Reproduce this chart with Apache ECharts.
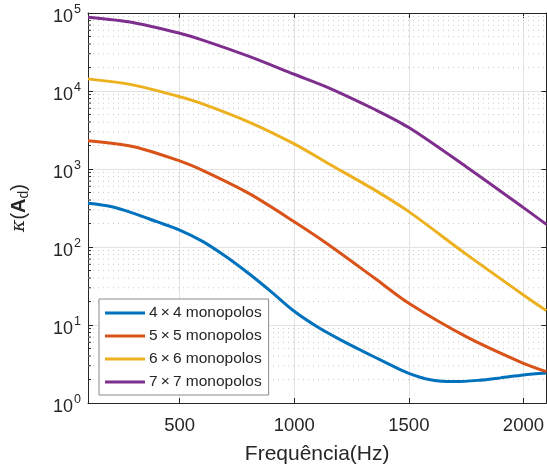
<!DOCTYPE html>
<html>
<head>
<meta charset="utf-8">
<script src="https://cdn.jsdelivr.net/npm/echarts@6/dist/echarts.min.js"></script>
<style>
  html, body { margin: 0; padding: 0; background: #fff; }
  #chart { width: 547px; height: 470px; }
</style>
</head>
<body>
<div id="chart"></div>
<script>
// Condition number of the array matrix versus frequency
const freqHz = [100, 300, 500, 600, 800, 1000, 1150, 1350, 1500, 1750, 2000, 2100];
const kappa5x5 = [2300, 1930, 1270, 960, 490, 211, 107, 40, 19, 7.1, 3.23, 2.53];
const kappa6x6 = [14300, 11900, 8450, 6850, 4030, 2100, 1170, 540, 284, 81, 24.3, 15.3];
const kappa7x7 = [88000, 75000, 55000, 45000, 28000, 16400, 11000, 5830, 3400, 1070, 320, 195];

// the 4x4 array has a sharper shape, sampled more finely
const freq4x4Hz = [100, 200, 300, 400, 500, 600, 700, 800, 900, 1000, 1100, 1200, 1300, 1400, 1500, 1600, 1700, 1800, 1900, 2000, 2100];
const kappa4x4 = [363, 330, 270, 211, 165, 118, 76, 46, 26.6, 15, 9.5, 6.5, 4.6, 3.3, 2.4, 1.97, 1.88, 1.95, 2.1, 2.29, 2.42];

const seriesNames = ['4\u2009\u00d7\u20094 monopolos', '5\u2009\u00d7\u20095 monopolos', '6\u2009\u00d7\u20096 monopolos', '7\u2009\u00d7\u20097 monopolos'];
const seriesColors = ['#0072BD', '#D95319', '#EDB120', '#7E2F8E'];
const xTicks = [500, 1000, 1500, 2000];

// minor log ticks 2..9 within each decade
const minorTicks = [];
for (let e = 0; e < 5; e++) {
  for (let m = 2; m <= 9; m++) minorTicks.push(m * Math.pow(10, e));
}

const FONT = 'Liberation Sans, Arial, sans-serif';
const AXIS_COLOR = '#262626';

const chart = echarts.init(document.getElementById('chart'), null, { renderer: 'canvas' });

const seriesData = [
  [freq4x4Hz, kappa4x4],
  [freqHz, kappa5x5],
  [freqHz, kappa6x6],
  [freqHz, kappa7x7]
];

const lineSeries = seriesData.map(([fs, vals], i) => ({
  name: seriesNames[i],
  type: 'line',
  data: fs.map((f, j) => [f, vals[j]]),
  smooth: 0.3,
  showSymbol: false,
  symbol: 'none',
  lineStyle: { width: 3, color: seriesColors[i] },
  itemStyle: { color: seriesColors[i] },
  z: 5
}));

const minorGrid = {
  type: 'custom',
  silent: true,
  z: 1,
  data: minorTicks.map(v => [100, v]),
  renderItem: function (params, api) {
    const cs = params.coordSys;
    const y = api.coord([100, api.value(1)])[1];
    return {
      type: 'group',
      children: [
        {
          type: 'line',
          shape: { x1: cs.x, y1: y, x2: cs.x + cs.width, y2: y },
          style: { stroke: '#c8c8c8', lineWidth: 1, lineDash: [1, 4] }
        },
        {
          type: 'line',
          shape: { x1: cs.x, y1: y, x2: cs.x + 3, y2: y },
          style: { stroke: AXIS_COLOR, lineWidth: 1 }
        }
      ]
    };
  }
};

const option = {
  animation: false,
  backgroundColor: '#ffffff',
  grid: { left: 88, top: 13, width: 462, height: 390, containLabel: false },
  legend: {
    data: seriesNames,
    orient: 'vertical',
    left: 99,
    top: 299,
    icon: 'rect',
    itemWidth: 40,
    itemHeight: 3,
    itemGap: 7,
    padding: [6, 7, 5, 6],
    backgroundColor: '#ffffff',
    borderColor: '#8a8a8a',
    borderWidth: 1,
    textStyle: { fontFamily: FONT, fontSize: 15.5, color: '#262626', lineHeight: 15, padding: [0, 0, 0, -1] }
  },
  xAxis: [
    {
      type: 'value',
      min: 100,
      max: 2100,
      position: 'bottom',
      name: 'Frequ\u00eancia(Hz)',
      nameLocation: 'middle',
      nameGap: 41,
      nameTextStyle: { fontFamily: FONT, fontSize: 21, color: AXIS_COLOR },
      axisLine: { show: true, onZero: false, lineStyle: { color: AXIS_COLOR, width: 1 } },
      axisTick: { show: true, inside: true, length: 5, customValues: xTicks, lineStyle: { color: AXIS_COLOR } },
      axisLabel: {
        customValues: xTicks,
        fontFamily: FONT,
        fontSize: 18.5,
        color: AXIS_COLOR,
        margin: 13,
        formatter: function (v) { return String(v); }
      },
      splitLine: { show: true, lineStyle: { color: '#e2e2e2', width: 1 } }
    },
    {
      type: 'value',
      min: 100,
      max: 2100,
      position: 'top',
      axisLine: { show: true, onZero: false, lineStyle: { color: AXIS_COLOR, width: 1 } },
      axisTick: { show: true, inside: true, length: 5, customValues: xTicks, lineStyle: { color: AXIS_COLOR } },
      axisLabel: { show: false },
      splitLine: { show: false }
    }
  ],
  yAxis: [
    {
      type: 'log',
      logBase: 10,
      min: 1,
      max: 100000,
      position: 'left',
      name: '{k|\u03ba}{p|(}{a|A}{d|d}{p|)}',
      nameLocation: 'middle',
      nameGap: 57,
      nameRotate: 90,
      nameTextStyle: {
        fontFamily: FONT,
        color: AXIS_COLOR,
        rich: {
          k: { fontFamily: 'DejaVu Serif', fontStyle: 'italic', fontSize: 19, color: AXIS_COLOR },
          p: { fontFamily: FONT, fontSize: 20, color: AXIS_COLOR },
          a: { fontFamily: FONT, fontWeight: 'bold', fontSize: 20, color: AXIS_COLOR },
          d: { fontFamily: FONT, fontSize: 14, color: AXIS_COLOR, padding: [9, 0, 0, 0] }
        }
      },
      axisLine: { show: true, onZero: false, lineStyle: { color: AXIS_COLOR, width: 1 } },
      axisTick: { show: true, inside: true, length: 5, lineStyle: { color: AXIS_COLOR } },
      axisLabel: {
        fontFamily: FONT,
        color: AXIS_COLOR,
        margin: 7,
        formatter: function (v) {
          const e = Math.round(Math.log10(v));
          return '{b|10}{s|' + e + '}';
        },
        rich: {
          b: { fontFamily: FONT, fontSize: 18, color: AXIS_COLOR, padding: [9, 0, 0, 0] },
          s: { fontFamily: FONT, fontSize: 12.5, color: AXIS_COLOR, padding: [0, 0, 6, 1] }
        }
      },
      splitLine: { show: true, lineStyle: { color: '#e2e2e2', width: 1 } }
    },
    {
      type: 'log',
      logBase: 10,
      min: 1,
      max: 100000,
      position: 'right',
      axisLine: { show: true, onZero: false, lineStyle: { color: AXIS_COLOR, width: 1 } },
      axisTick: { show: true, inside: true, length: 5, lineStyle: { color: AXIS_COLOR } },
      axisLabel: { show: false },
      splitLine: { show: false }
    }
  ],
  series: [minorGrid].concat(lineSeries)
};

chart.setOption(option);
</script>
</body>
</html>
